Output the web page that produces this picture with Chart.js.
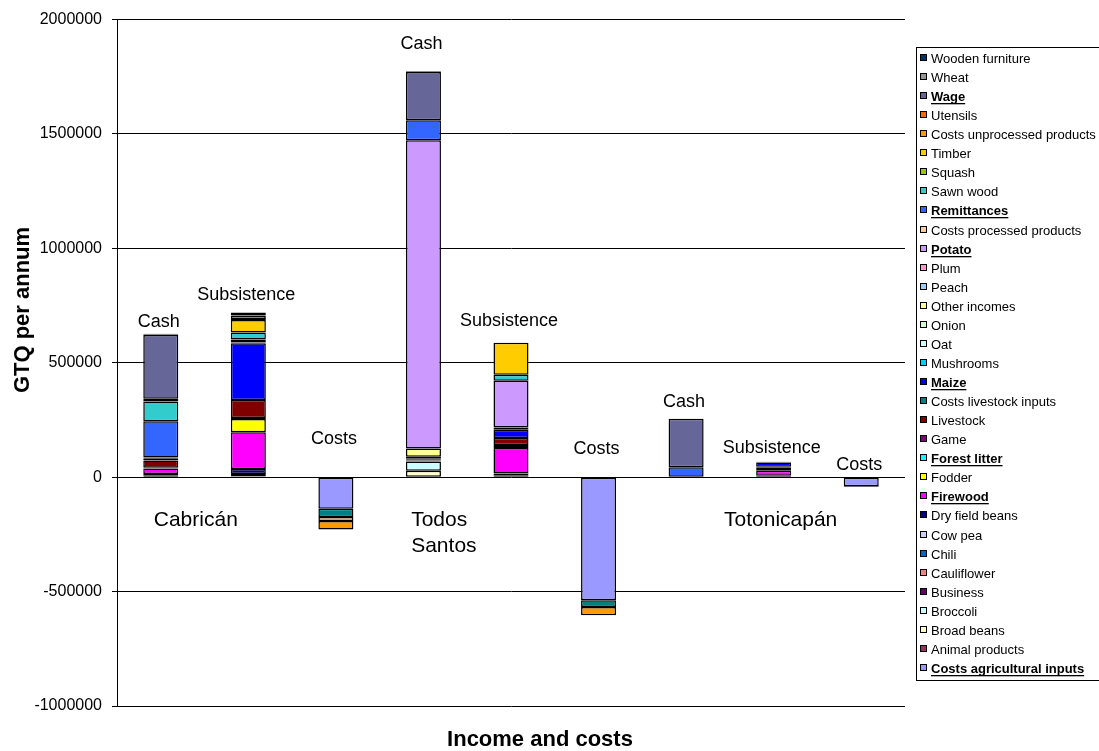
<!DOCTYPE html>
<html>
<head>
<meta charset="utf-8">
<script src="https://cdn.jsdelivr.net/npm/chart.js@4.4.1/dist/chart.umd.min.js"></script>
<style>
  body { margin: 0; background: #fff; }
  #wrap { width: 1099px; height: 751px; position: relative; }
</style>
</head>
<body>
<div id="wrap"><canvas id="canvas-income"></canvas></div>
<script>
// columns: Cabricán cash, subsistence, costs / Todos Santos cash, subsistence, costs / Totonicapán cash, subsistence, costs
const categories = ['Cash', 'Subsistence', 'Costs', 'Cash', 'Subsistence', 'Costs', 'Cash', 'Subsistence', 'Costs'];
const places = ['Cabricán', ['Todos', 'Santos'], 'Totonicapán'];
const yTicks = [-1000000, -500000, 0, 500000, 1000000, 1500000, 2000000];

// series, bottom of stack first
const costsAgriculturalInputs = [0, 0, -138000, 0, 0, -538000, 0, 0, -40000];
const animalProducts = [8000, 4000, 0, 0, 6000, 0, 0, 2000, 0];
const broadBeans = [0, 0, 0, 28000, 0, 0, 0, 0, 0];
const broccoli = [0, 0, 0, 41000, 0, 0, 0, 0, 0];
const business = [0, 10000, 0, 4000, 0, 0, 0, 0, 0];
const cauliflower = [0, 0, 0, 0, 0, 0, 0, 0, 0];
const chili = [0, 0, 0, 0, 0, 0, 0, 0, 0];
const cowPea = [0, 0, 0, 0, 0, 0, 0, 0, 0];
const dryFieldBeans = [6000, 22000, 0, 5000, 10000, 0, 0, 4000, 0];
const firewood = [24000, 160000, 0, 0, 112000, 0, 0, 22000, 0];
const fodder = [0, 58000, 0, 0, 8000, 0, 0, 0, 0];
const forestLitter = [0, 0, 0, 0, 5000, 0, 0, 13000, 0];
const game = [3000, 5000, 0, 3000, 0, 0, 0, 0, 0];
const livestock = [32000, 78000, 0, 8000, 30000, 0, 0, 5000, 0];
const costsLivestockInputs = [0, 0, -36000, 0, 0, -29000, 0, 0, -3000];
const maize = [10000, 248000, 0, 0, 36000, 0, 0, 18000, 0];
const mushrooms = [3000, 4000, 0, 0, 4000, 0, 0, 3000, 0];
const oat = [0, 0, 0, 0, 0, 0, 0, 0, 0];
const onion = [0, 0, 0, 0, 0, 0, 0, 0, 0];
const otherIncomes = [0, 0, 0, 36000, 6000, 0, 0, 0, 0];
const peach = [0, 0, 0, 0, 0, 0, 0, 0, 0];
const plum = [0, 0, 0, 0, 0, 0, 0, 0, 0];
const potato = [0, 13000, 0, 1348000, 205000, 0, 0, 0, 0];
const costsProcessedProducts = [0, 0, -17000, 0, 0, 0, 0, 0, 0];
const remittances = [158000, 0, 0, 87000, 0, 0, 44000, 0, 0];
const sawnWood = [87000, 30000, 0, 0, 26000, 0, 0, 0, 0];
const squash = [0, 0, 0, 0, 0, 0, 0, 0, 0];
const timber = [12000, 55000, 0, 0, 140000, 0, 0, 0, 0];
const costsUnprocessedProducts = [0, 0, -38000, 0, 0, -36000, 0, 0, 0];
const utensils = [0, 4000, 0, 0, 0, 0, 0, 0, 0];
const wage = [278000, 0, 0, 211000, 0, 0, 211000, 0, 0];
const wheat = [3000, 16000, 0, 2000, 0, 0, 0, 0, 0];
const woodenFurniture = [3000, 13000, 0, 2000, 0, 0, 0, 0, 0];

// name, values, colour, bold in legend
const series = [
    ['Costs agricultural inputs', costsAgriculturalInputs, '#9999FF', true],
    ['Animal products', animalProducts, '#993366', false],
    ['Broad beans', broadBeans, '#FFFFCC', false],
    ['Broccoli', broccoli, '#CCFFFF', false],
    ['Business', business, '#660066', false],
    ['Cauliflower', cauliflower, '#FF8080', false],
    ['Chili', chili, '#0066CC', false],
    ['Cow pea', cowPea, '#CCCCFF', false],
    ['Dry field beans', dryFieldBeans, '#000080', false],
    ['Firewood', firewood, '#FF00FF', true],
    ['Fodder', fodder, '#FFFF00', false],
    ['Forest litter', forestLitter, '#00FFFF', true],
    ['Game', game, '#800080', false],
    ['Livestock', livestock, '#800000', false],
    ['Costs livestock inputs', costsLivestockInputs, '#008080', false],
    ['Maize', maize, '#0000FF', true],
    ['Mushrooms', mushrooms, '#00CCFF', false],
    ['Oat', oat, '#CCFFFF', false],
    ['Onion', onion, '#CCFFCC', false],
    ['Other incomes', otherIncomes, '#FFFF99', false],
    ['Peach', peach, '#99CCFF', false],
    ['Plum', plum, '#FF99CC', false],
    ['Potato', potato, '#CC99FF', true],
    ['Costs processed products', costsProcessedProducts, '#FFCC99', false],
    ['Remittances', remittances, '#3366FF', true],
    ['Sawn wood', sawnWood, '#33CCCC', false],
    ['Squash', squash, '#99CC00', false],
    ['Timber', timber, '#FFCC00', false],
    ['Costs unprocessed products', costsUnprocessedProducts, '#FF9900', false],
    ['Utensils', utensils, '#FF6600', false],
    ['Wage', wage, '#666699', true],
    ['Wheat', wheat, '#969696', false],
    ['Wooden furniture', woodenFurniture, '#003366', false]
];

// px above the top of each column where its caption sits
const captionLift = [12, 17, 38, 27, 22, 28, 17, 14, 12];
const placeAt = [[0.4, 43, 'center'], [2.86, 43, 'left'], [7.08, 43, 'center']];

const FONT = '"Liberation Sans", Arial, Helvetica, sans-serif';
Chart.defaults.font.family = FONT;
Chart.defaults.color = '#000';

const textPlugin = {
    id: 'texts',
    afterDraw(chart) {
        const ctx = chart.ctx;
        const x = chart.scales.x, y = chart.scales.y;
        const zero = y.getPixelForValue(0);
        ctx.save();
        ctx.fillStyle = '#000';
        ctx.textBaseline = 'middle';

        // column captions
        ctx.font = '18px ' + FONT;
        ctx.textAlign = 'center';
        categories.forEach((c, i) => {
            let top = 0;
            series.forEach(s => { if (s[1][i] > 0) top += s[1][i]; });
            ctx.fillText(c, x.getPixelForValue(i) - 2, y.getPixelForValue(top) - captionLift[i]);
        });

        // place names
        ctx.font = '21px ' + FONT;
        places.forEach((p, k) => {
            const lines = Array.isArray(p) ? p : [p];
            ctx.textAlign = placeAt[k][2];
            lines.forEach((l, j) => {
                ctx.fillText(l, x.getPixelForValue(placeAt[k][0]), zero + placeAt[k][1] + j * 26);
            });
        });

        // axis titles
        ctx.font = 'bold 22px ' + FONT;
        ctx.textAlign = 'center';
        ctx.fillText('Income and costs', 540, 740);
        ctx.save();
        ctx.translate(23, 310);
        ctx.rotate(-Math.PI / 2);
        ctx.fillText('GTQ per annum', 0, 0);
        ctx.restore();

        // legend, last series on top
        const lx = 916, ly = 47, rowH = 19.06;
        ctx.strokeStyle = '#000';
        ctx.lineWidth = 1;
        ctx.strokeRect(lx + 0.5, ly + 0.5, 200, 633);
        ctx.textAlign = 'left';
        series.slice().reverse().forEach((s, i) => {
            const cy = Math.round(58 + i * rowH);
            ctx.fillStyle = s[2];
            ctx.fillRect(lx + 4, cy - 4, 7, 7);
            ctx.strokeStyle = '#000';
            ctx.strokeRect(lx + 4.5, cy - 3.5, 6, 6);
            ctx.fillStyle = '#000';
            ctx.font = (s[3] ? 'bold ' : '') + '13px ' + FONT;
            ctx.fillText(s[0], lx + 15, cy + 1);
            if (s[3]) {
                const w = ctx.measureText(s[0]).width;
                ctx.fillRect(lx + 15, cy + 7, w, 1.3);
            }
        });
        ctx.restore();
    }
};

const canvas = document.getElementById('canvas-income');
const ctx = canvas.getContext('2d');
new Chart(ctx, {
    type: 'bar',
    data: {
        labels: categories,
        datasets: series.map(s => ({
            label: s[0],
            data: s[1].map(v => v === 0 ? null : v),
            backgroundColor: s[2],
            borderColor: '#000',
            borderWidth: 1.5,
            borderSkipped: false,
            barPercentage: 0.4,
            categoryPercentage: 1.0
        }))
    },
    options: {
        responsive: true,
        maintainAspectRatio: false,
        animation: false,
        layout: { padding: { left: 0, right: 194, top: 19, bottom: 45 } },
        plugins: {
            legend: { display: false },
            tooltip: { enabled: false }
        },
        scales: {
            x: {
                stacked: true,
                display: false
            },
            y: {
                stacked: true,
                min: yTicks[0],
                max: yTicks[yTicks.length - 1],
                afterBuildTicks: s => { s.ticks = yTicks.map(v => ({ value: v })); },
                afterFit: s => { s.width = 117; },
                border: { display: true, color: '#000', width: 1 },
                grid: { color: '#000', lineWidth: 1, tickLength: 5 },
                ticks: {
                    padding: 10,
                    font: { size: 16 },
                    color: '#000',
                    callback: v => String(v)
                }
            }
        }
    },
    plugins: [textPlugin]
});
</script>
</body>
</html>
